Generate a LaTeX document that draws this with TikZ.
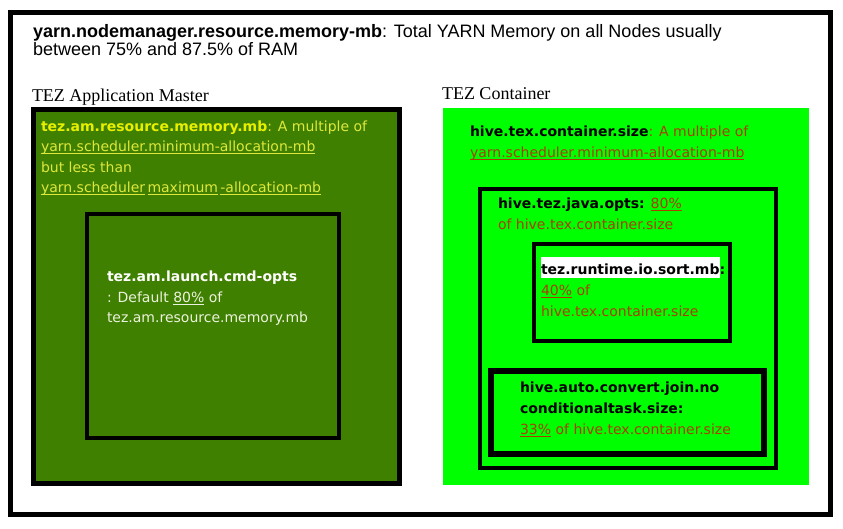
\documentclass[tikz,border=0pt]{standalone}
\usepackage{fontspec}
\setmainfont{Liberation Serif}
\newfontfamily\arialf{Liberation Sans}
\newfontfamily\verd{DejaVu Sans}
\definecolor{dkgreen}{RGB}{64,128,0}
\definecolor{ltgreen}{RGB}{0,255,0}
\definecolor{amyellow}{RGB}{232,240,0}
\definecolor{amyellow2}{RGB}{222,232,60}
\definecolor{amlight}{RGB}{236,242,222}
\definecolor{brownred}{RGB}{170,62,0}
\newcommand\myul[1]{\setbox0\hbox{#1}\rlap{\rule[-2.4pt]{\wd0}{0.9pt}}\box0\relax}
\tikzset{
  frame/.style={draw=black, line width=5pt, inner sep=0pt, outer sep=0pt, anchor=north west},
  txt/.style={anchor=base west, inner sep=0pt, outer sep=0pt},
  title/.style={txt, font=\arialf\fontsize{18}{21}\selectfont},
  head/.style={txt, font=\rmfamily\fontsize{18}{21}\selectfont},
  vt/.style={txt, font=\verd\fontsize{14}{17}\selectfont},
}
\begin{document}
\begin{tikzpicture}[x=1pt,y=-1pt]
\useasboundingbox (0,0) rectangle (843,528);
% outer frame
\node[frame, minimum width=820pt, minimum height=502pt] (outer) at (10.5,12.5) {};
\node[title] (t1) at (33,37) {\textbf{yarn.nodemanager.resource.memory-mb}: Total YARN Memory on all Nodes usually};
\node[title] (t2) at (33,55) {between 75\% and 87.5\% of RAM};
% headings
\node[head] (hAM) at (32,101) {TEZ Application Master};
\node[head] (hTC) at (442,99) {TEZ Container};
% AM box
\node[frame, fill=dkgreen, minimum width=366pt, minimum height=374pt] (am) at (33.5,109.5) {};
\node[frame, line width=4pt, minimum width=252pt, minimum height=224pt] (amin) at (87,214) {};
\node[vt, text=amyellow2] (a1) at (41,131) {\textcolor{amyellow}{\textbf{tez.am.resource.memory.mb}}: A multiple of};
\node[vt, text=amyellow2] (a2) at (41,151) {\myul{yarn.scheduler.minimum-allocation-mb}};
\node[vt, text=amyellow2] (a3) at (41,172) {but less than};
\node[vt, text=amyellow2] (a4) at (41,192) {\myul{yarn.scheduler}\,\myul{maximum}\,\myul{-allocation-mb}};
\node[vt, text=white] (b1) at (107,281) {\textbf{tez.am.launch.cmd-opts}};
\node[vt, text=amlight] (b2) at (107,302) {: Default \myul{80\%} of};
\node[vt, text=amlight] (b3) at (107,322) {tez.am.resource.memory.mb};
% Container
\node[fill=ltgreen, inner sep=0pt, outer sep=0pt, anchor=north west, minimum width=366pt, minimum height=377pt] (tc) at (443,108) {};
\node[frame, line width=4pt, minimum width=296pt, minimum height=279pt] (java) at (480,189) {};
\node[frame, line width=4pt, minimum width=196pt, minimum height=97pt] (sort) at (534,244) {};
\node[frame, line width=6pt, minimum width=273pt, minimum height=83pt] (join) at (491,371) {};
\node[vt, text=brownred] (c1) at (470,136) {\textcolor{black}{\textbf{hive.tex.container.size}}: A multiple of};
\node[vt, text=brownred] (c2) at (470,157) {\myul{yarn.scheduler.minimum-allocation-mb}};
\node[vt, text=brownred] (d1) at (498,208) {\textcolor{black}{\textbf{hive.tez.java.opts:}} \myul{80\%}};
\node[vt, text=brownred] (d2) at (498,229) {of hive.tex.container.size};
\node[vt, text=brownred] (e1) at (541,274) {\setlength\fboxsep{0pt}\textcolor{black}{\colorbox{white}{\rule[-4pt]{0pt}{21pt}\textbf{tez.runtime.io.sort.mb}}\textbf{:}}};
\node[vt, text=brownred] (e2) at (541,295) {\myul{40\%} of};
\node[vt, text=brownred] (e3) at (541,316) {hive.tex.container.size};
\node[vt, text=black] (f1) at (520,392) {\textbf{hive.auto.convert.join.no}};
\node[vt, text=black] (f2) at (520,413) {\textbf{conditionaltask.size:}};
\node[vt, text=brownred] (f3) at (520,434) {\myul{33\%} of hive.tex.container.size};
\end{tikzpicture}
\end{document}
